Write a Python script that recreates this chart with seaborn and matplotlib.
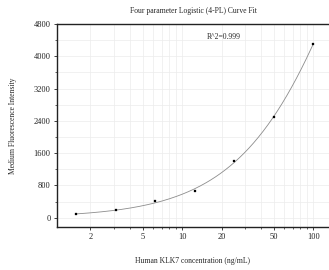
import numpy as np
import pandas as pd
import matplotlib
matplotlib.use('Agg')
import matplotlib.pyplot as plt
import matplotlib.ticker as mticker
import seaborn as sns

# datos
conc = [1.5625, 3.125, 6.25, 12.5, 25, 50, 100]
mfi = [91, 182, 420, 659, 1407, 2494, 4306]
x_ticks = [2, 5, 10, 20, 50, 100]
y_ticks = [0, 800, 1600, 2400, 3200, 4000, 4800]

x = np.array(conc, dtype=float)
y = np.array(mfi, dtype=float)

# ajuste 4PL: busqueda en rejilla sobre B y C, A y D por minimos cuadrados
best = None
for B in np.linspace(0.3, 4, 150):
    for logC in np.linspace(0, 4, 200):
        C = 10 ** logC
        f = 1 / (1 + (x / C) ** B)
        M = np.column_stack([f, 1 - f])
        coef, *_ = np.linalg.lstsq(M, y, rcond=None)
        err = np.sum((M @ coef - y) ** 2)
        if best is None or err < best[0]:
            best = (err, B, C, coef[0], coef[1])
_, B, C, A, D = best

xc = np.logspace(np.log10(x.min()), np.log10(x.max()), 200)
yc = D + (A - D) / (1 + (xc / C) ** B)
df_pts = pd.DataFrame({'conc': x, 'mfi': y})
df_fit = pd.DataFrame({'conc': xc, 'mfi': yc})

sns.set_theme(style="ticks")
plt.rcParams['font.family'] = ['Liberation Serif', 'DejaVu Serif']

fig = plt.figure(figsize=(3.29, 2.70), dpi=100)
ax = fig.add_axes([0.173, 0.159, 0.827, 0.752])

sns.lineplot(data=df_fit, x='conc', y='mfi', ax=ax, color='#8c8c8c', linewidth=0.6)
sns.scatterplot(data=df_pts, x='conc', y='mfi', ax=ax, color='black', marker='s',
                s=4.5, edgecolor='black', linewidth=0.2, zorder=5)

ax.set_xscale('log')
ax.set_xlim(1.11, 132)
ax.set_ylim(-230, 4800)
ax.set_xticks(x_ticks)
ax.xaxis.set_major_formatter(mticker.FixedFormatter([str(t) for t in x_ticks]))
ax.xaxis.set_minor_locator(mticker.LogLocator(base=10, subs=np.arange(2, 10)))
ax.xaxis.set_minor_formatter(mticker.NullFormatter())
ax.set_yticks(y_ticks)
ax.yaxis.set_minor_locator(mticker.MultipleLocator(400))

ax.grid(True, which='both', color='#ececec', linewidth=0.5)
ax.set_axisbelow(True)
ax.tick_params(which='major', labelsize=6, length=2.5, width=0.6, pad=2, colors='#222222')
ax.tick_params(which='minor', length=1.5, width=0.5, colors='#222222')

for s in ['left', 'bottom', 'top']:
    ax.spines[s].set_linewidth(1.0)
    ax.spines[s].set_color('#222222')
ax.spines['right'].set_visible(False)

ax.set_xlabel('Human KLK7 concentration (ng/mL)', fontsize=5.5, labelpad=11)
ax.set_ylabel('Medium Fluorescence Intensity', fontsize=5.5, labelpad=12)
ax.set_title('Four parameter Logistic (4-PL) Curve Fit', fontsize=5.5, pad=8)
ax.text(0.55, 0.936, 'R^2=0.999', transform=ax.transAxes, fontsize=5.5,
        ha='left', va='center')

fig.savefig('out.png', dpi=100)
